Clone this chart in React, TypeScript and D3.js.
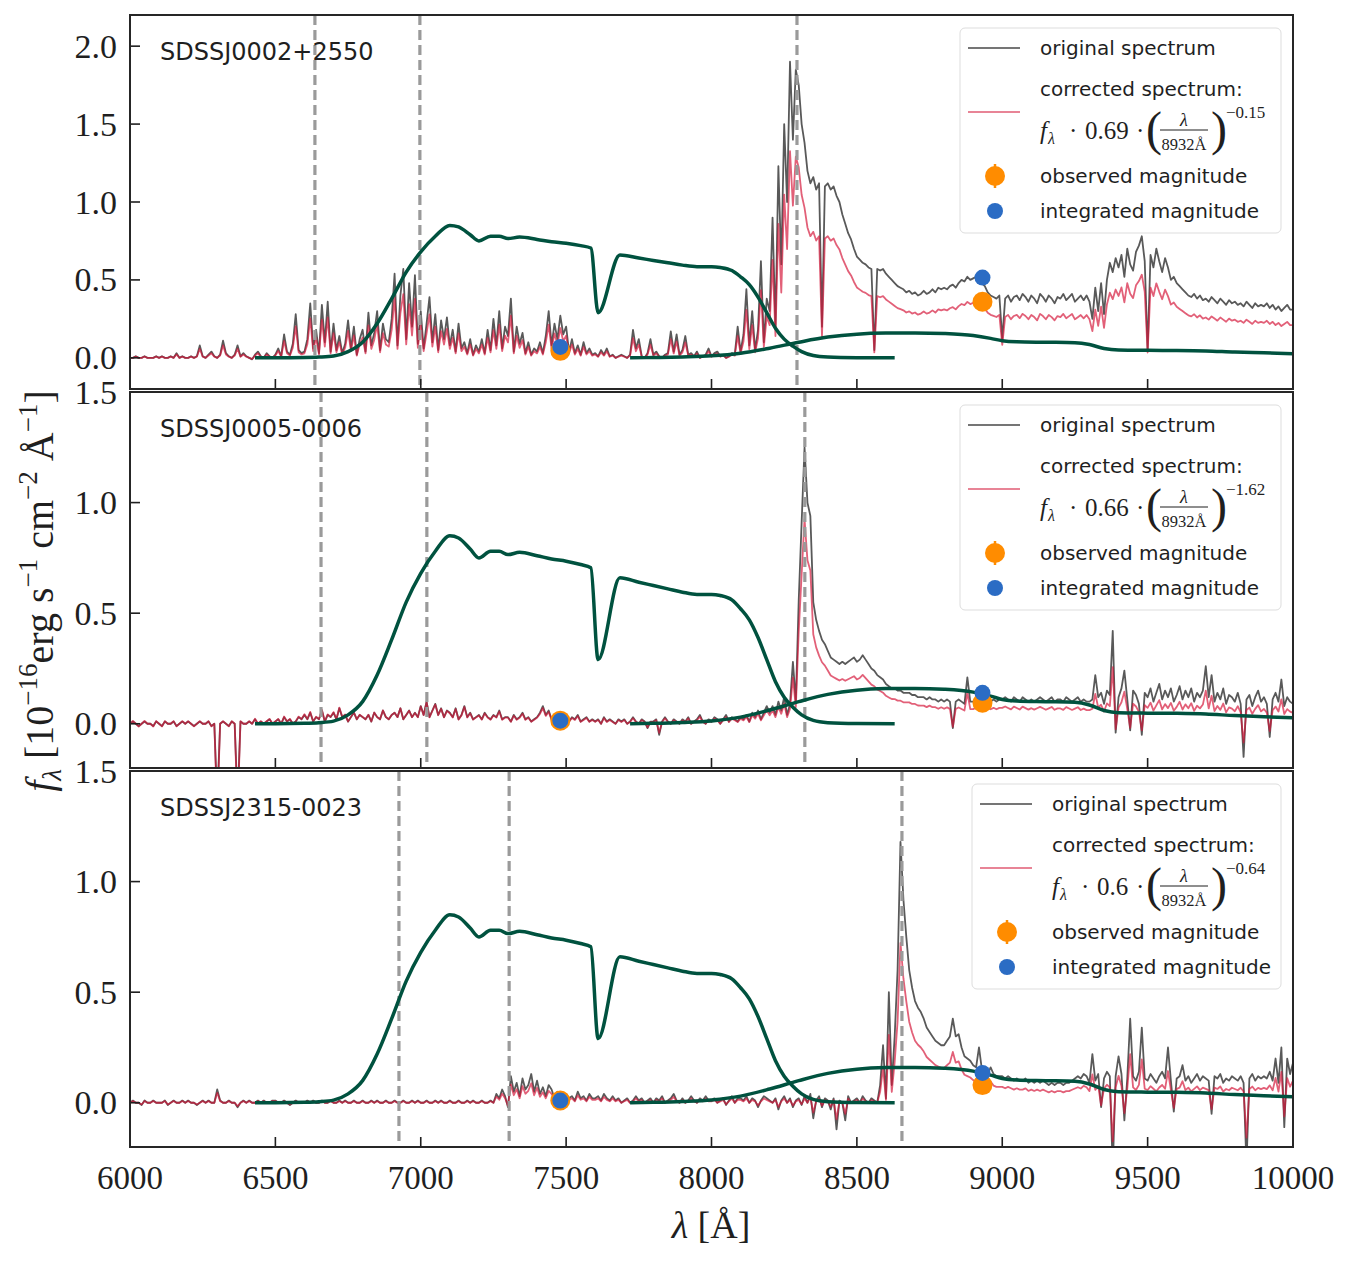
import * as d3 from "d3";
import React from "react";

const W = 1352;
const H = 1261;
const SERIF = "'Liberation Serif', 'DejaVu Serif', serif";
const SANS = "'DejaVu Sans', 'Noto Sans', sans-serif";

// wavelength grid of the spectra (Angstrom)
const LAMBDA0 = 6000;
const DLAMBDA = 10;

// original spectra, hundredths of 1e-16 erg/s/cm2/A, one value every 10 A from 6000 A
const spec0002 = [
  0, 0, 1, 0, 0, 1, 0, 0, 0, 1,
  0, 1, 0, 0, 1, 0, 3, 0, 1, 0,
  0, 1, 0, 1, 8, 1, 0, 2, 4, 1,
  0, 2, 11, 3, 1, 0, 2, 8, 1, 3,
  1, 0, -1, 2, 4, 1, 0, 3, 1, 0,
  2, 6, 1, 15, 4, 2, 9, 28, 5, 3,
  4, 12, 35, 6, 18, 3, 34, 10, 36, 4,
  22, 5, 14, 3, 9, 24, 6, 20, 2, 12,
  18, 4, 29, 8, 16, 30, 5, 22, 12, 10,
  25, 54, 8, 40, 57, 12, 48, 20, 53, 9,
  30, 6, 22, 39, 10, 28, 5, 24, 12, 26,
  8, 18, 4, 22, 6, 10, 3, 12, 2, 8,
  4, 12, 3, 18, 5, 25, 8, 30, 6, 20,
  14, 38, 4, 20, 9, 16, 3, 10, 2, 6,
  4, 10, 3, 14, 30, 8, 22, 12, 27, 15,
  20, 4, 12, 3, 8, 2, 10, 3, 6, 2,
  3, 1, 5, 2, 6, 1, 2, 0, 1, 2,
  1, 0, 2, 18, 6, 12, 1, 0, 3, 12,
  2, 4, 1, 0, 2, 3, 17, 4, 15, 2,
  5, 14, 2, 3, 1, 4, 0, 1, 2, 6,
  1, 3, 4, 1, 2, 0, 1, 3, 2, 20,
  4, 15, 44, 8, 30, 5, 18, 62, 10, 38,
  30, 90, 20, 123, 60, 150, 100, 190, 140, 185,
  175, 150, 138, 120, 112, 116, 108, 112, 20, 110,
  112, 108, 110, 104, 100, 92, 86, 80, 76, 70,
  65, 63, 61, 60, 58, 57, 5, 57, 56, 57,
  54, 52, 50, 48, 46, 45, 44, 42, 43, 41,
  42, 40, 41, 43, 41, 42, 44, 42, 45, 44,
  45, 44, 46, 47, 45, 48, 50, 49, 52, 50,
  51, 52, 50, 48, 46, 42, 40, 39, 38, 40,
  12, 38, 40, 36, 39, 40, 37, 41, 39, 36,
  40, 38, 35, 41, 39, 36, 40, 38, 35, 39,
  38, 41, 37, 39, 41, 36, 38, 40, 37, 40,
  36, 25, 45, 30, 48, 28, 50, 61, 55, 64,
  58, 66, 52, 70, 60, 56, 68, 72, 78, 62,
  5, 66, 58, 70, 62, 55, 64, 58, 50, 52,
  48, 46, 44, 42, 40, 39, 41, 38, 40, 37,
  38, 36, 39, 37, 35, 38, 36, 34, 37, 35,
  36, 34, 35, 33, 36, 34, 32, 35, 33, 34,
  33, 35, 32, 34, 31, 33, 30, 32, 34, 31,
  31,
];

const spec0005 = [
  0, 1, 0, -1, 0, 1, 0, 0, -1, 1,
  0, -1, 1, 0, 0, 1, -1, 0, 1, 0,
  1, 0, -1, 0, 1, 0, 0, 1, -1, 0,
  -35, 0, 1, 0, -1, 1, 0, -35, 1, 0,
  0, 1, 0, 2, 0, 1, 0, 1, 2, 0,
  1, 2, 0, 3, 1, 2, 0, 1, 3, 2,
  4, 2, 5, 1, 3, 2, 6, 1, 4, 3,
  5, 2, 7, 3, 4, 1, 3, 5, 2, 4,
  3, 2, 4, 1, 5, 3, 2, 6, 3, 2,
  4, 5, 3, 7, 2, 4, 6, 3, 5, 3,
  8, 4, 10, 3, 6, 9, 4, 7, 3, 6,
  5, 3, 7, 2, 4, 8, 3, 5, 2, 3,
  4, 2, 5, 3, 2, 4, 3, 6, 2, 3,
  3, 1, 4, 2, 3, 5, 2, 3, 1, 2,
  3, 5, 8, 4, 6, 2, -1, 3, 2, 1,
  2, 1, 3, 2, 4, 1, 2, 3, 1, 2,
  1, 2, 0, 3, 1, 2, 1, 0, 2, 1,
  2, 0, 1, 3, 1, 0, 2, 1, -2, 1,
  1, 2, -5, 1, 3, 1, 0, 2, 1, 0,
  2, 1, 3, 0, 1, 2, 4, 1, 0, 2,
  1, 3, 2, 0, 2, 4, 1, 3, 2, 1,
  3, 2, 4, 1, 5, 3, 6, 2, 5, 8,
  5, 8, 4, 10, 6, 12, 4, 9, 28, 10,
  56, 91, 125, 100, 94, 55, 47, 42, 38, 36,
  33, 30, 29, 28, 27, 28, 27, 28, 29, 30,
  28, 29, 31, 29, 27, 25, 24, 22, 21, 20,
  18, 17, 16, 16, 15, 15, 14, 14, 14, 13,
  13, 12, 12, 12, 11, 12, 11, 11, 10, 11,
  10, 11, 10, -2, 10, 11, 10, 9, 21, 10,
  10, 11, 10, 12, 10, 11, 10, 11, 10, 11,
  11, 12, 11, 10, 12, 11, 10, 12, 11, 10,
  11, 10, 11, 12, 11, 10, 11, 12, 10, 11,
  11, 10, 12, 11, 10, 11, 12, 10, 11, 10,
  10, 11, 22, 12, 14, 9, 15, 13, 42, -4,
  12, 16, 24, 11, -3, 15, 13, 9, -5, 14,
  12, 16, 10, 14, 18, 11, 15, 12, 16, 10,
  13, 17, 11, 15, 12, 16, 10, 14, 12, 15,
  26, 12, 22, 10, 14, 11, 16, 9, 13, 12,
  10, 14, 9, -15, 11, 13, 8, 12, 15, 10,
  12, 9, -6, 11, 14, 10, 20, 8, 12, 10,
  9,
];

const spec2315 = [
  0, 1, 0, 0, -1, 1, 0, 0, 1, 0,
  0, 0, 1, -1, 0, 1, 0, 0, 1, 0,
  1, 0, 0, -1, 0, 1, 0, 1, 0, 0,
  6, 1, 0, 0, 1, 0, 0, -2, 0, 1,
  0, 1, 0, 0, 1, 0, 1, 0, 0, 1,
  1, 0, 0, 1, 0, -1, 0, 1, 0, 0,
  0, 1, 0, 1, 0, 0, 1, 0, 0, 1,
  0, 0, 1, 0, 1, 0, 0, 1, 0, 0,
  1, 0, 0, 1, 0, 1, 0, 0, 1, 0,
  0, 1, 0, 0, 1, 0, 0, 1, 0, 1,
  0, 0, 1, 0, 0, 1, 0, 1, 0, 0,
  1, 0, 0, 1, 0, 0, 1, 0, 1, 0,
  0, 1, 0, 0, 1, 0, 4, 2, 6, 3,
  -2, 12, 5, 9, 3, 11, 6, 8, 13, 5,
  10, 4, 7, 3, 8, 6, 2, 5, 3, 1,
  4, 2, 3, 1, 5, 2, 3, 1, 4, 2,
  2, 3, 1, 4, 2, 1, 3, 1, 2, 0,
  1, 2, 0, 1, 3, 1, 2, 0, 1, 2,
  0, 2, 1, 3, 0, 1, 2, 4, 1, 0,
  2, 0, 1, 3, 1, 0, 2, 1, 3, 1,
  1, 2, 0, 1, 2, -1, 1, 3, 0, 2,
  2, 1, 3, 0, 2, 1, -2, 1, 3, 2,
  1, 0, 2, -3, 1, 3, 0, 2, -2, 1,
  2, -1, 3, 0, 4, -7, 1, 3, -2, 2,
  1, -3, 2, -12, 1, 0, -8, 3, 0, 1,
  2, 0, 3, 1, 0, 2, 1, 0, 8, 26,
  2, 50, 8, 30, 60, 118, 92, 75, 60, 52,
  46, 43, 41, 38, 34, 32, 30, 28, 27, 26,
  26, 28, 30, 38, 30, 31, 25, 21, 20, 19,
  17, 16, 25, 15, 14, 13, 16, 13, 12, 12,
  12, 11, 12, 11, 10, 11, 10, 10, 11, 9,
  10, 9, 10, 9, 10, 9, 8, 9, 8, 9,
  9, 8, 9, 9, 10, 11, 12, 11, 13, 12,
  9, 22, 10, 13, -2, 11, 14, 12, -30, 12,
  21, 13, -8, 11, 38, 12, 10, 14, 34, 11,
  10, 13, 11, 9, 12, 14, 11, 25, 10, -4,
  11, 12, 17, 10, 12, 9, 11, 13, 10, 12,
  11, 10, -5, 12, 11, 13, 9, 11, 10, 12,
  11, 10, 12, 9, -28, 11, 13, 10, 12, 11,
  12, 11, 14, 10, 20, 9, 25, -11, 20, 13,
  18,
];

const spectra = [spec0002, spec0005, spec2315];
const objectNames = ["SDSSJ0002+2550", "SDSSJ0005-0006", "SDSSJ2315-0023"];
const corrFactor = ["0.69", "0.66", "0.6"];
const corrSlope = ["−0.15", "−1.62", "−0.64"];
const corrFactorNum = [0.69, 0.66, 0.6];
const corrSlopeNum = [-0.15, -1.62, -0.64];
const REF_LAMBDA = 8932;

// dashed line positions (Angstrom)
const lineMarks = [
  [6636, 6997, 8294],
  [6657, 7021, 8321],
  [6925, 7304, 8655],
];

const magWave = [7480, 8932];
const observedMag = [[0.045, 0.36], [0.014, 0.095], [0.01, 0.08]];
const integratedMag = [[0.07, 0.515], [0.014, 0.14], [0.01, 0.135]];

const yMax = [2.2, 1.5, 1.5];
const yTicks = [[0, 0.5, 1, 1.5, 2], [0, 0.5, 1, 1.5], [0, 0.5, 1, 1.5]];
const xTicks = [6000, 6500, 7000, 7500, 8000, 8500, 9000, 9500, 10000];

// filter transmission curves
const filterI: [number, number][] = [
  [6430, 0], [6500, 0], [6600, 0.002], [6650, 0.005], [6700, 0.012], [6750, 0.04],
  [6800, 0.1], [6850, 0.22], [6900, 0.38], [6950, 0.55], [7000, 0.68], [7050, 0.78],
  [7100, 0.85], [7130, 0.84], [7170, 0.79], [7200, 0.75], [7240, 0.78], [7270, 0.78],
  [7300, 0.765], [7340, 0.775], [7400, 0.76], [7450, 0.745], [7500, 0.735], [7550, 0.72],
  [7585, 0.705], [7610, 0.29], [7685, 0.66], [7750, 0.64], [7800, 0.625], [7850, 0.61],
  [7900, 0.595], [7950, 0.585], [8000, 0.585], [8030, 0.58], [8070, 0.56], [8100, 0.52],
  [8130, 0.47], [8160, 0.39], [8190, 0.29], [8220, 0.19], [8250, 0.12], [8280, 0.075],
  [8310, 0.04], [8350, 0.015], [8400, 0.005], [8500, 0.001], [8630, 0],
];
const filterZ: [number, number][] = [
  [7720, 0], [7800, 0.002], [7900, 0.006], [8000, 0.013], [8100, 0.03], [8200, 0.062],
  [8300, 0.1], [8400, 0.133], [8500, 0.152], [8600, 0.159], [8700, 0.16], [8800, 0.156],
  [8900, 0.143], [8960, 0.125], [9000, 0.11], [9050, 0.103], [9150, 0.1], [9250, 0.097],
  [9300, 0.085], [9350, 0.06], [9400, 0.05], [9500, 0.048], [9600, 0.047], [9700, 0.044],
  [9800, 0.037], [9900, 0.032], [10000, 0.027],
];

const panelTop = [15, 392, 771];
const panelBottom = [389, 768, 1147];
const PL = 130;
const PR = 1293;
const legendTextX = [1040, 1040, 1052];

const x = d3.scaleLinear().domain([6000, 10000]).range([PL, PR]);

const GRAY = "#474747";
const RED = "#d41538";
const TEAL = "#00523f";
const ORANGE = "#ff8c00";
const BLUE = "#2b6cc4";
const INK = "#1f1f1f";

function Legend({ i }: { i: number }) {
  const tx = legendTextX[i];
  const T = panelTop[i] + 13;
  const fw = corrFactor[i].split("").reduce((s, c) => s + (c === "." ? 6 : 12), 0);
  const fb = T + 111;
  const d2 = tx + 45 + fw + 9;
  const p1 = d2 + 10;
  const fx = p1 + 14;
  return (
    <g>
      <rect x={tx - 80} y={T} width={1281 - (tx - 80)} height={205} rx={5}
        fill="#fff" fillOpacity={0.85} stroke="#dddddd" strokeWidth={1} />
      <line x1={tx - 72} x2={tx - 20} y1={T + 20} y2={T + 20} stroke={GRAY} strokeWidth={1.5} />
      <text x={tx} y={T + 20} dominantBaseline="central" fontFamily={SANS} fontSize={20} fill={INK}>original spectrum</text>
      <text x={tx} y={T + 61} dominantBaseline="central" fontFamily={SANS} fontSize={20} fill={INK}>corrected spectrum:</text>
      <line x1={tx - 72} x2={tx - 20} y1={T + 84} y2={T + 84} stroke={RED} strokeOpacity={0.7} strokeWidth={1.5} />
      <g fontFamily={SERIF} fill={INK}>
        <text x={tx} y={fb} fontSize={25} fontStyle="italic">f</text>
        <text x={tx + 8} y={fb + 5} fontSize={16} fontStyle="italic">λ</text>
        <text x={tx + 29} y={fb} fontSize={25}>·</text>
        <text x={tx + 45} y={fb} fontSize={25}>{corrFactor[i]}</text>
        <text x={d2} y={fb} fontSize={25}>·</text>
        <text x={p1} y={fb + 6} fontSize={48}>(</text>
        <text x={fx + 24} y={fb - 13} fontSize={18} fontStyle="italic" textAnchor="middle">λ</text>
        <line x1={fx} x2={fx + 48} y1={fb - 9} y2={fb - 9} stroke={INK} strokeWidth={1} />
        <text x={fx + 24} y={fb + 11} fontSize={16.5} textAnchor="middle">8932Å</text>
        <text x={fx + 51} y={fb + 6} fontSize={48}>)</text>
        <text x={fx + 66} y={fb - 21} fontSize={17}>{corrSlope[i]}</text>
      </g>
      <line x1={tx - 45} x2={tx - 45} y1={T + 136} y2={T + 160} stroke={ORANGE} strokeWidth={2.5} />
      <circle cx={tx - 45} cy={T + 148} r={10} fill={ORANGE} />
      <text x={tx} y={T + 148} dominantBaseline="central" fontFamily={SANS} fontSize={20} fill={INK}>observed magnitude</text>
      <circle cx={tx - 45} cy={T + 183} r={8} fill={BLUE} />
      <text x={tx} y={T + 183} dominantBaseline="central" fontFamily={SANS} fontSize={20} fill={INK}>integrated magnitude</text>
    </g>
  );
}

function Panel({ i }: { i: number }) {
  const top = panelTop[i];
  const bottom = panelBottom[i];
  const y = d3.scaleLinear().domain([-0.2, yMax[i]]).range([bottom, top]);
  const line = d3.line<[number, number]>().x((d) => x(d[0])).y((d) => y(d[1]));
  const smooth = d3.line<[number, number]>().x((d) => x(d[0])).y((d) => y(d[1])).curve(d3.curveMonotoneX);

  const orig: [number, number][] = spectra[i].map((v, j) => [LAMBDA0 + j * DLAMBDA, v / 100]);
  const corr: [number, number][] = orig.map(([l, v]) => [
    l,
    v * corrFactorNum[i] * Math.pow(l / REF_LAMBDA, corrSlopeNum[i]),
  ]);
  const clipId = `clip-panel-${i}`;

  return (
    <g>
      <defs>
        <clipPath id={clipId}>
          <rect x={PL} y={top} width={PR - PL} height={bottom - top} />
        </clipPath>
      </defs>
      <g clipPath={`url(#${clipId})`}>
        <path d={line(orig) ?? ""} fill="none" stroke={GRAY} strokeOpacity={0.9} strokeWidth={1.8} strokeLinejoin="round" />
        <path d={line(corr) ?? ""} fill="none" stroke={RED} strokeOpacity={0.68} strokeWidth={1.8} strokeLinejoin="round" />
        {lineMarks[i].map((l) => (
          <line key={l} x1={x(l)} x2={x(l)} y1={top} y2={bottom} stroke="#9a9a9a" strokeWidth={3.2} strokeDasharray="10,5" />
        ))}
        <path d={smooth(filterI) ?? ""} fill="none" stroke={TEAL} strokeWidth={3.5} />
        <path d={smooth(filterZ) ?? ""} fill="none" stroke={TEAL} strokeWidth={3.5} />
        {magWave.map((l, k) => (
          <g key={l}>
            <circle cx={x(l)} cy={y(observedMag[i][k])} r={10} fill={ORANGE} />
            <circle cx={x(l)} cy={y(integratedMag[i][k])} r={8} fill={BLUE} />
          </g>
        ))}
      </g>
      <Legend i={i} />
      <text x={160} y={top + 37} dominantBaseline="central" fontFamily={SANS} fontSize={24} fill={INK}>
        {objectNames[i]}
      </text>
      {yTicks[i].map((t) => (
        <g key={t}>
          <line x1={PL} x2={PL + 10} y1={y(t)} y2={y(t)} stroke={INK} strokeWidth={1.6} />
          <text x={117} y={y(t)} textAnchor="end" dominantBaseline="central" fontFamily={SERIF} fontSize={34} fill={INK}>
            {t.toFixed(1)}
          </text>
        </g>
      ))}
      {xTicks.map((t) => (
        <line key={t} x1={x(t)} x2={x(t)} y1={bottom} y2={bottom - 10} stroke={INK} strokeWidth={1.6} />
      ))}
      {i === 2 &&
        xTicks.map((t) => (
          <text key={t} x={x(t)} y={1178} textAnchor="middle" dominantBaseline="central" fontFamily={SERIF} fontSize={33} fill={INK}>
            {t}
          </text>
        ))}
      <rect x={PL} y={top} width={PR - PL} height={bottom - top} fill="none" stroke="#262626" strokeWidth={2} />
    </g>
  );
}

export default function App() {
  return (
    <svg width={W} height={H} style={{ position: "absolute", left: 0, top: 0 }}>
      <rect width={W} height={H} fill="#fff" />
      {[0, 1, 2].map((i) => (
        <Panel key={i} i={i} />
      ))}
      <text transform="translate(53,591) rotate(-90)" textAnchor="middle" fontFamily={SERIF} fontSize={40} fill={INK}>
        <tspan fontStyle="italic">f</tspan>
        <tspan fontSize={27} dy={8} fontStyle="italic">λ</tspan>
        <tspan dy={-8}> [10</tspan>
        <tspan fontSize={27} dy={-16}>−16</tspan>
        <tspan dy={16}>erg s</tspan>
        <tspan fontSize={27} dy={-16}>−1</tspan>
        <tspan dy={16}> cm</tspan>
        <tspan fontSize={27} dy={-16}>−2</tspan>
        <tspan dy={16}> Å</tspan>
        <tspan fontSize={27} dy={-16}>−1</tspan>
        <tspan dy={16}>]</tspan>
      </text>
      <text x={711} y={1238} textAnchor="middle" fontFamily={SERIF} fontSize={38} fill={INK}>
        <tspan fontStyle="italic">λ</tspan> [Å]
      </text>
    </svg>
  );
}
